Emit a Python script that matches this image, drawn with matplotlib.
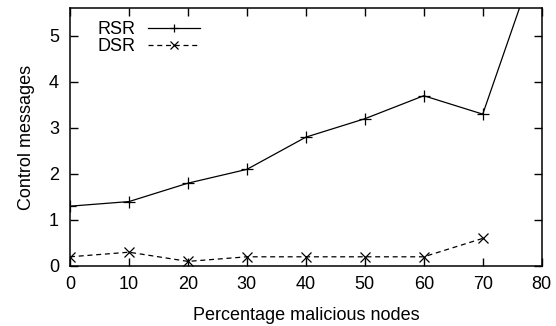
import matplotlib
matplotlib.use("Agg")
import matplotlib.pyplot as plt

plt.rcParams['font.family'] = ['Liberation Sans', 'DejaVu Sans']

x_rsr = [0, 10, 20, 30, 40, 50, 60, 70, 80]
rsr = [1.3, 1.4, 1.8, 2.1, 2.8, 3.2, 3.7, 3.3, 7.0]
x_dsr = [0, 10, 20, 30, 40, 50, 60, 70]
dsr = [0.2, 0.3, 0.1, 0.2, 0.2, 0.2, 0.2, 0.6]
xticks = [0, 10, 20, 30, 40, 50, 60, 70, 80]
yticks = [0, 1, 2, 3, 4, 5]

FS = 13
fig = plt.figure(figsize=(5.56, 3.26), dpi=100)
ax = fig.add_axes([70 / 556, 1 - 266 / 326, (541.7 - 70) / 556, (266 - 8.3) / 326])

ax.plot(x_rsr, rsr, color='black', lw=0.9, marker='+', markersize=8, markeredgewidth=0.9, label='RSR')
ax.plot(x_dsr, dsr, color='black', lw=0.9, linestyle=(0, (4, 3)), marker='x', markersize=6.5,
        markeredgewidth=0.9, label='DSR')

ax.set_xlim(0, 80)
ax.set_ylim(0, 5.6)
ax.set_xticks(xticks)
ax.set_yticks(yticks)
ax.tick_params(direction='in', top=True, right=True, length=6, width=1, labelsize=FS)
ax.tick_params(axis='y', pad=8)
ax.tick_params(axis='x', pad=7)
for s in ax.spines.values():
    s.set_linewidth(1.1)

ax.set_xlabel('Percentage malicious nodes', fontsize=FS, labelpad=10)
ax.set_ylabel('Control messages', fontsize=FS, labelpad=10)

leg = ax.legend(loc='upper left', bbox_to_anchor=(98 / 556, 1 - 21 / 326),
                bbox_transform=fig.transFigure, frameon=False, markerfirst=False,
                handlelength=2.9, handletextpad=0.65, fontsize=FS, labelspacing=0.0,
                borderpad=0, borderaxespad=0)
for h in leg.legend_handles:
    h.set_markersize(6)

fig.savefig('out.png', dpi=100)
